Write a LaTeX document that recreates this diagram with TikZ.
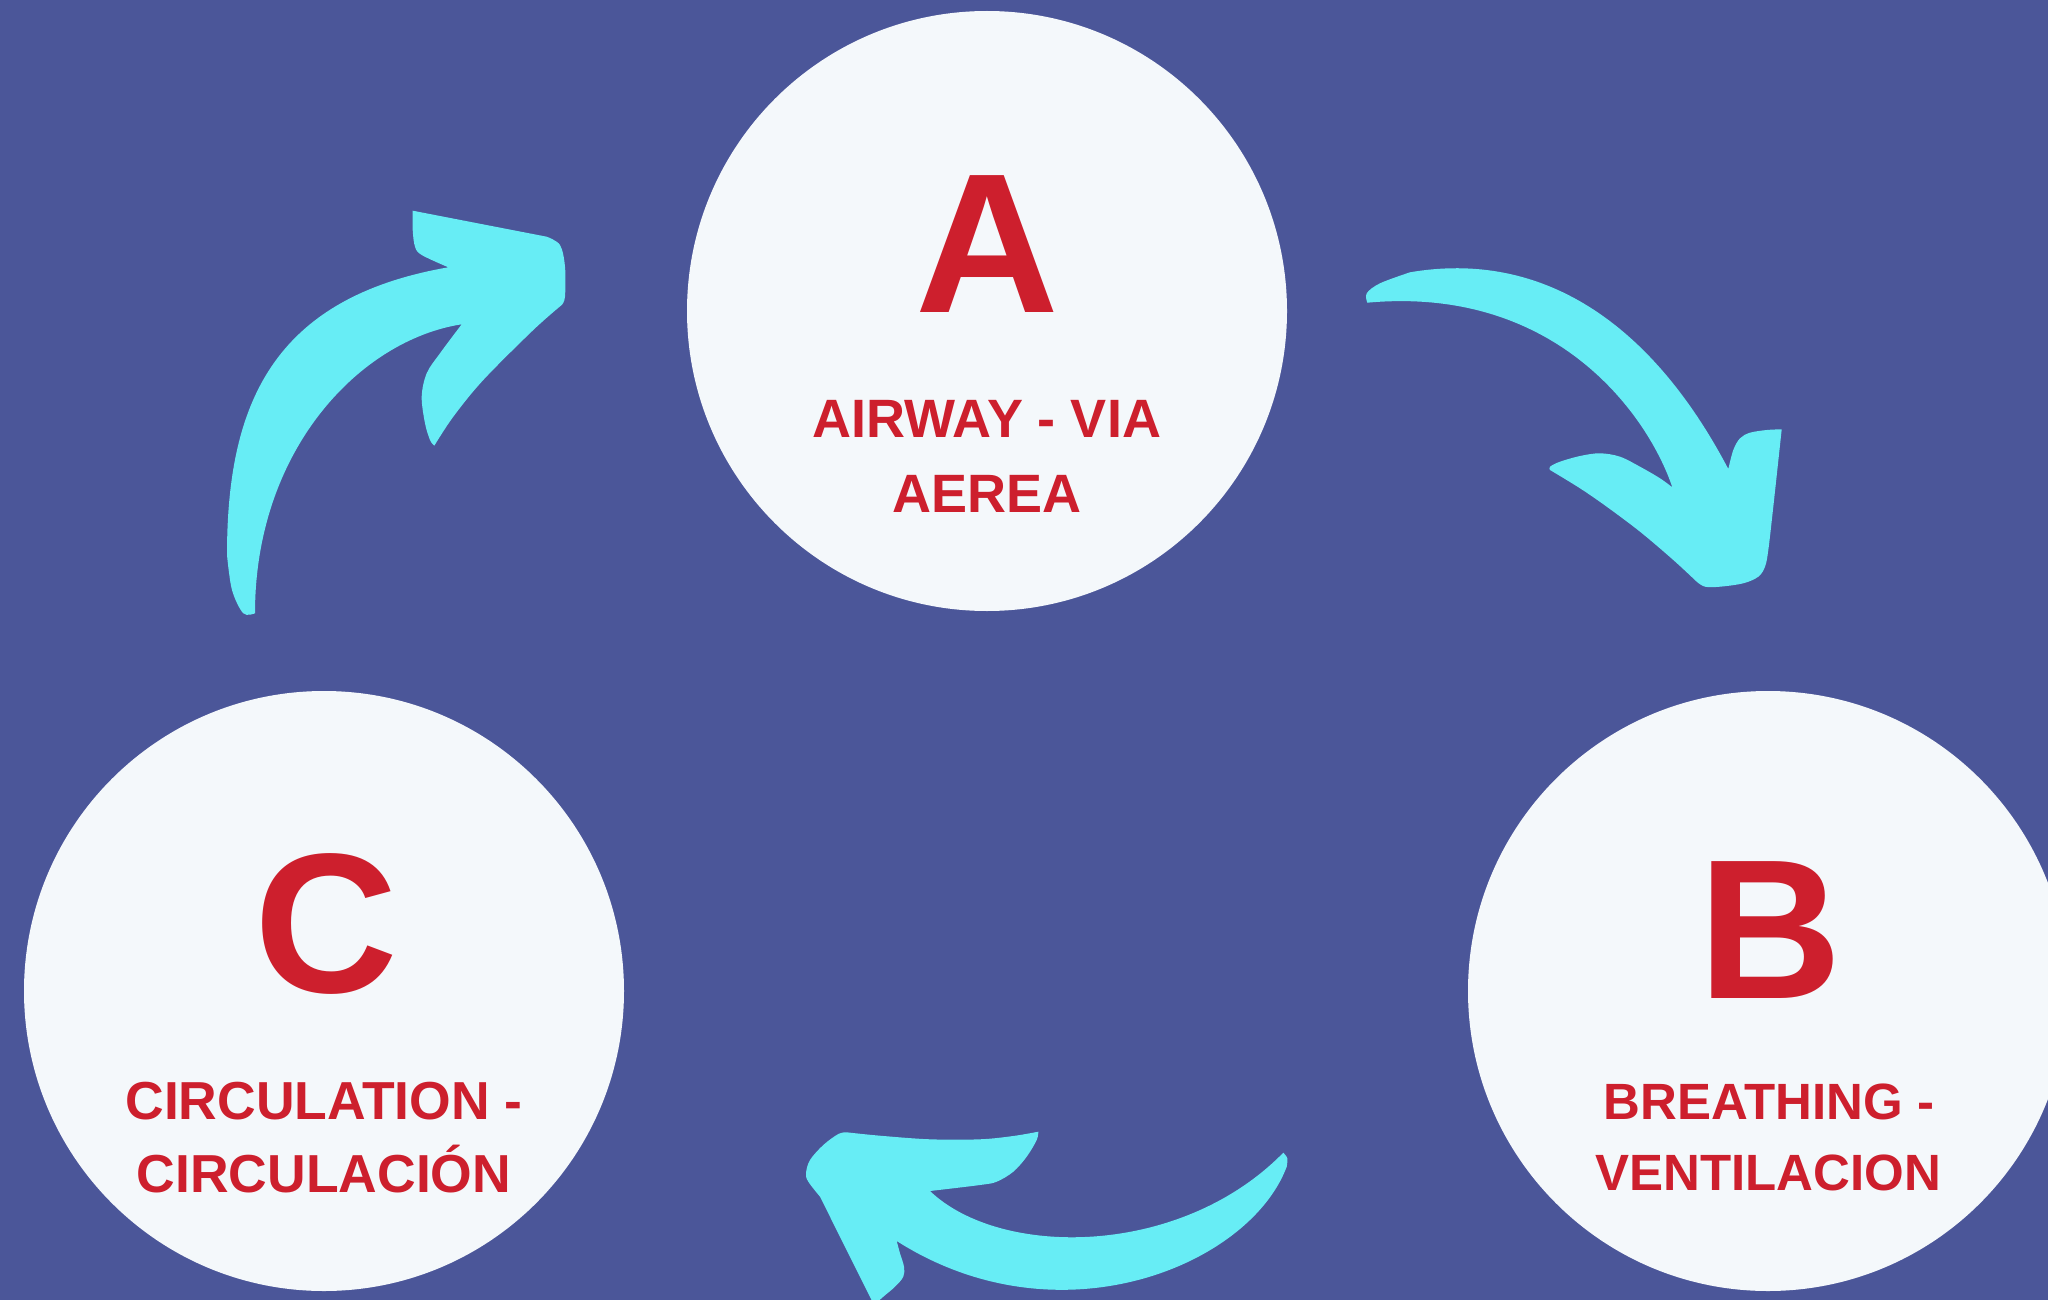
\documentclass[tikz,border=0pt]{standalone}
\usepackage{fontspec}
\setmainfont{Liberation Sans}
\definecolor{bgblue}{HTML}{4B5699}
\definecolor{disc}{HTML}{F4F8FB}
\definecolor{redtxt}{HTML}{CD1F2D}
\definecolor{cyanarrow}{HTML}{67EDF5}
\tikzset{
  disc/.style={circle, fill=disc, draw=none, inner sep=0pt, minimum size=600pt},
  bigletter/.style={text=redtxt, font=\bfseries\fontsize{199}{199}\selectfont, anchor=base, inner sep=0pt},
  labelA/.style={text=redtxt, font=\bfseries\fontsize{54}{54}\selectfont, anchor=base, inner sep=0pt},
  labelB/.style={text=redtxt, font=\bfseries\fontsize{51}{51}\selectfont, anchor=base, inner sep=0pt},
  labelC/.style={text=redtxt, font=\bfseries\fontsize{53.5}{53.5}\selectfont, anchor=base, inner sep=0pt},
  arrowshape/.style={fill=cyanarrow, draw=none},
  sm/.style={smooth, tension=0.55}
}
\begin{document}
\begin{tikzpicture}[x=1pt,y=-1pt]
\useasboundingbox (0,0) rectangle (2048,1300);
\clip (0,0) rectangle (2048,1300);
\fill[bgblue] (0,0) rectangle (2048,1300);

% discs
\node[disc] (cA) at (987,311) {};
\node[disc] (cB) at (1768,991) {};
\node[disc] (cC) at (324,991) {};

% letters
\node[bigletter] (lA) at (987,312) {A};
\node[bigletter] (lB) at (1770,998) {B};
\node[bigletter] (lC) at (326,992) {C};

% labels
\node[labelA] (a1) at (987,437.5) {AIRWAY - VIA};
\node[labelA] (a2) at (987,512) {AEREA};
\node[labelB] (b1) at (1769,1119) {BREATHING -};
\node[labelB] (b2) at (1768,1190) {VENTILACION};
\node[labelC] (c1) at (324,1119) {CIRCULATION -};
\node[labelC] (c2) at (324,1192.5) {CIRCULACIÓN};

% arrow C -> A (top left)
\fill[arrowshape]
  plot[sm] coordinates {(255,613.3) (243.3,613.3) (232,590) (227,555)}
  .. controls (227,405) and (272,298) .. (448.3,267.3)
  -- plot[sm] coordinates {(448.3,267.3) (421.7,255) (415,246.7) (412.7,230) (412.7,210.7)}
  -- (546.7,236.7)
  -- plot[sm] coordinates {(546.7,236.7) (560,245) (565,266.7) (565,296.7) (561.7,305)}
  -- plot[sm] coordinates {(561.7,305) (533.3,330) (483.3,380) (453.3,416.7) (434.3,445.7)}
  -- plot[sm] coordinates {(434.3,445.7) (430,440) (425,423.3) (421.7,396.7) (426.7,373.3) (440,353.3) (461.7,324.3)}
  .. controls (360,340) and (255,450) .. (255,613.3)
  -- cycle;

% arrow A -> B (top right)
\fill[arrowshape]
  plot[sm] coordinates {(1367.3,302.7) (1366.7,293.3) (1380,283.3) (1410,272.3)}
  .. controls (1540,250) and (1650,320) .. (1728.3,469)
  -- plot[sm] coordinates {(1728.3,469) (1733.3,450) (1740,438.3) (1750,432.7) (1766.7,430) (1781.7,429.3)}
  -- plot[sm] coordinates {(1781.7,429.3) (1773.3,506.7) (1768.3,550) (1765,566.7) (1758.3,576.7) (1743.3,583.3) (1720,586.7) (1705,586.7) (1696.7,581.7)}
  -- plot[sm] coordinates {(1696.7,581.7) (1673.3,560) (1640,531.7) (1606.7,506.7) (1580,488.3) (1550,470)}
  -- plot[sm] coordinates {(1550,470) (1550,466.7) (1560,461.7) (1580,456) (1600,453.3) (1620,456.7) (1640,466.7) (1660,478.3) (1672.3,487.3)}
  .. controls (1650,420) and (1560,285) .. (1367.3,302.7)
  -- cycle;

% arrow B -> C (bottom)
\fill[arrowshape]
  plot[sm] coordinates {(1283.3,1152.7) (1287.3,1158.3) (1286.7,1166.7)}
  .. controls (1250,1265) and (1060,1345) .. (896.7,1241)
  -- plot[sm] coordinates {(896.7,1241) (900,1253.3) (904,1266.7) (903.3,1276.7) (895,1286.7) (883.3,1296.7) (874,1305)}
  -- (820,1196.7)
  -- plot[sm] coordinates {(820,1196.7) (808.3,1181.7) (806,1173.3) (810,1160) (823.3,1145) (838.3,1134) (846.7,1132.3)}
  -- plot[sm] coordinates {(846.7,1132.3) (880,1135.7) (930,1139.3) (980,1139.3) (1013.3,1136) (1038.3,1131.7)}
  -- plot[sm] coordinates {(1038.3,1131.7) (1036.7,1140) (1026.7,1156.7) (1013.3,1171.7) (996.7,1181.7) (980,1185) (930,1191)}
  .. controls (1000,1258) and (1180,1258) .. (1283.3,1152.7)
  -- cycle;
\end{tikzpicture}
\end{document}
